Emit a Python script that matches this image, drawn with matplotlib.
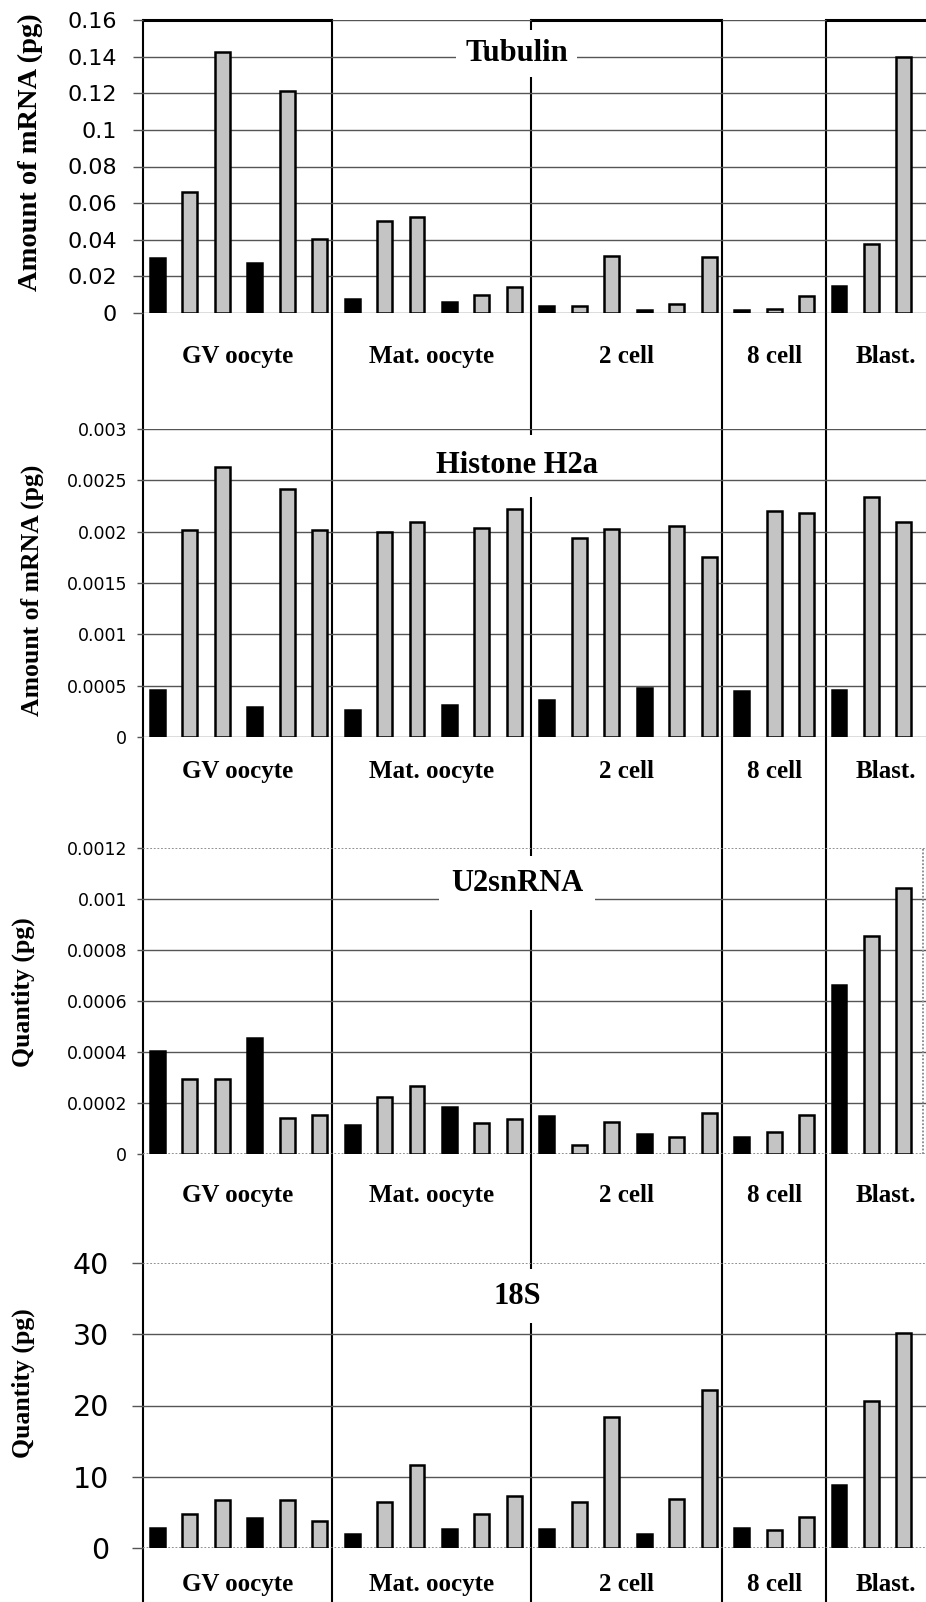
import numpy as np
import matplotlib.pyplot as plt
from matplotlib.lines import Line2D
from matplotlib import transforms

# data (24 samples, grouped by stage)
stages = ['GV oocyte', 'Mat. oocyte', '2 cell', '8 cell', 'Blast.']
stage_sizes = [6, 6, 6, 3, 3]
bar_kind = ['black', 'gray', 'gray'] * 8

tubulin = [0.0302, 0.0659, 0.1427, 0.0271, 0.1212, 0.0402,
           0.0078, 0.0502, 0.0526, 0.0058, 0.0098, 0.0144,
           0.0038, 0.0038, 0.0311, 0.0016, 0.0049, 0.0308,
           0.0016, 0.0023, 0.0093,
           0.0147, 0.0375, 0.1396]
histone_h2a = [0.00046, 0.00202, 0.00263, 0.00029, 0.00242, 0.00202,
               0.00026, 0.00200, 0.00209, 0.00031, 0.00204, 0.00222,
               0.00036, 0.00194, 0.00203, 0.00048, 0.00206, 0.00175,
               0.00045, 0.00220, 0.00218,
               0.00046, 0.00234, 0.00209]
u2snrna = [0.000404, 0.000296, 0.000296, 0.000454, 0.000143, 0.000154,
           0.000113, 0.000224, 0.000266, 0.000185, 0.000123, 0.000137,
           0.000148, 0.000037, 0.000126, 0.000077, 0.000067, 0.000162,
           0.000065, 0.000086, 0.000154,
           0.000663, 0.000856, 0.001042]
rrna_18s = [2.8, 4.8, 6.7, 4.2, 6.7, 3.8,
            2.0, 6.5, 11.6, 2.7, 4.8, 7.3,
            2.7, 6.4, 18.4, 1.9, 6.9, 22.2,
            2.8, 2.5, 4.4,
            8.8, 20.6, 30.2]

titles = ['Tubulin', 'Histone H2a', 'U2snRNA', '18S']
ylabels = ['Amount of mRNA (pg)', 'Amount of mRNA (pg)', 'Quantity (pg)', 'Quantity (pg)']
series = [tubulin, histone_h2a, u2snrna, rrna_18s]
ymax = [0.16, 0.003, 0.0012, 40]
nticks = [8, 6, 6, 4]

# layout (pixels of the 926x1602 canvas)
W, H = 926, 1602
LEFT = 143
panel_px = [(20, 313), (429, 737), (848, 1154), (1263, 1548)]
tick_size = [16, 12.5, 12.5, 20.5]
tick_len = [7.2, 4.3, 4.3, 8]
tick_pad = [11.5, 7.2, 7.2, 16.5]
ylab_size = [20.5, 18.5, 18.5, 18.5]
ylab_pos = [(-0.128, 0.55), (-0.126, 0.477), (-0.138, 0.53), (-0.138, 0.577)]
title_y = [0.886, 0.88, 0.885, 0.884]
title_pad = [0.3, 0.55, 0.4, 0.4]
title_z = [3, 1.2, 3, 3]
cat_offset = [31, 24.5, 30, 26]

SERIF = 'Liberation Serif'
GRAY = '#c4c4c4'
GRID = '#555555'

XLIM = (0.06, 24.18)
x = np.arange(len(tubulin)) + 0.5
dividers = np.cumsum(stage_sizes)[:-1] + np.array([-0.12, 0.0, -0.1, 0.1])
edges = np.concatenate([[XLIM[0]], dividers, [24.8]])
label_x = (edges[:-1] + edges[1:]) / 2

fig = plt.figure(figsize=(W / 100, H / 100), dpi=100)
colors = ['black' if k == 'black' else GRAY for k in bar_kind]

axes = []
for i in range(4):
    top, bot = panel_px[i]
    ax = fig.add_axes([LEFT / W, 1 - bot / H, (W - LEFT) / W, (bot - top) / H], zorder=3)
    ax.patch.set_visible(False)
    for sp in ax.spines.values():
        sp.set_visible(False)
    ax.set_xlim(XLIM)
    ax.set_ylim(0, ymax[i])
    ax.set_xticks([])
    yt = np.linspace(0, ymax[i], nticks[i] + 1)
    ax.set_yticks(yt)
    ax.set_yticklabels(['{:g}'.format(round(v, 6)) for v in yt])
    ax.tick_params(axis='y', length=tick_len[i], width=1, pad=tick_pad[i],
                   labelsize=tick_size[i], color=GRID)

    dotted_ends = i >= 2
    for j, v in enumerate(yt):
        if dotted_ends and j in (0, len(yt) - 1):
            ax.axhline(v, color='#888888', lw=1.3, ls=(0, (1, 1)), zorder=1.5)
        else:
            ax.axhline(v, color=GRID, lw=1.0, zorder=1.5)

    ax.bar(x, series[i], width=0.46, color=colors, edgecolor='black', linewidth=1.8, zorder=2)

    ax.text(0.4775, title_y[i], titles[i], transform=ax.transAxes, ha='center', va='center',
            fontsize=22, fontweight='bold', family=SERIF, zorder=title_z[i],
            bbox=dict(boxstyle='square,pad=%g' % title_pad[i], fc='white', ec='none'))

    ax.set_ylabel(ylabels[i], fontsize=ylab_size[i], fontweight='bold', family=SERIF)
    ax.yaxis.set_label_coords(*ylab_pos[i])

    for cx, name in zip(label_x, stages):
        ax.annotate(name, xy=(cx, 0), xycoords=('data', 'axes fraction'),
                    xytext=(0, -cat_offset[i]), textcoords='offset points',
                    ha='center', va='center', fontsize=18, fontweight='bold', family=SERIF)
    axes.append(ax)

ax1, ax3 = axes[0], axes[2]

# boxed tops of GV, 2 cell and Blast columns in the first panel
ax1.hlines([ymax[0]] * 3, [edges[0], edges[2], edges[4]], [edges[1], edges[3], XLIM[1]],
           color='black', lw=2.2, zorder=4, clip_on=False)

# dotted right border of the U2snRNA panel
ax3.axvline(XLIM[1] - 0.09, color='#888888', lw=1.3, ls=(0, (1, 1)), zorder=1.5)

# stage separators running through all panels
top_frac = 1 - panel_px[0][0] / H
blend = transforms.blended_transform_factory(ax1.transData, fig.transFigure)
for xv in edges[:-1]:
    fig.add_artist(Line2D([xv, xv], [0, top_frac], transform=blend, color='black', lw=1.5, zorder=1))

fig.savefig('out.png', dpi=100)
